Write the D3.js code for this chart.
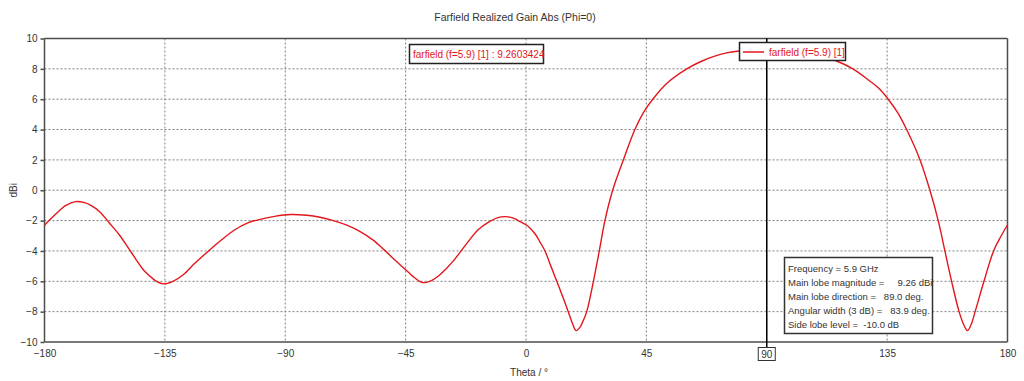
<!DOCTYPE html>
<html>
<head>
<meta charset="utf-8">
<script src="https://cdn.jsdelivr.net/npm/d3@7"></script>
<style>
  html, body { margin: 0; padding: 0; background: #fff; }
  svg { display: block; font-family: "Liberation Sans", Arial, sans-serif; }
  .grid line { stroke: #808080; stroke-dasharray: 2,2; stroke-width: 1; }
  .axis path, .axis line { stroke: #4d4d4d; stroke-width: 1.5; }
  .axis text { fill: #333; font-size: 10px; }
  .info text { fill: #333; font-size: 9.5px; white-space: pre; }
</style>
</head>
<body>
<div id="chart"></div>
<script>
// 角度 (deg) 與增益 (dBi)
const thetaDeg = [-180, -176, -172, -168.4, -165, -163, -159.4, -155.7, -152, -149, -146, -143, -140, -138, -135.5, -132, -128, -124, -119, -114, -109, -104, -99, -94, -88, -82, -77, -72, -67, -62, -57, -53, -49, -45.6, -42, -40, -38.7, -37, -35, -32.5, -30, -27, -24.4, -21, -18, -14, -10.5, -7.5, -4.5, -2.2, 1, 3.5, 5.2, 7.1, 9.3, 11.5, 13.7, 15.8, 17.3, 18.7, 20.3, 21.5, 22.7, 25.2, 27.4, 29.5, 32.4, 36.4, 40.7, 44, 47.6, 53, 60.1, 65.6, 70, 75, 79, 84, 89, 95, 100, 105, 110, 115.6, 122.2, 128.5, 132, 135.4, 139, 142.3, 147.3, 151, 154.1, 156.6, 159.1, 161.9, 163.6, 165, 166.4, 167.9, 171.2, 174.8, 177.5, 180];
const gainDbi = [-2.3, -1.6, -1.0, -0.75, -0.82, -0.97, -1.41, -2.17, -2.95, -3.71, -4.5, -5.25, -5.75, -6.02, -6.17, -6.0, -5.55, -4.85, -4.05, -3.3, -2.62, -2.15, -1.9, -1.72, -1.6, -1.65, -1.78, -2.0, -2.3, -2.72, -3.3, -3.93, -4.6, -5.14, -5.72, -5.98, -6.08, -6.05, -5.92, -5.62, -5.2, -4.62, -4.03, -3.25, -2.62, -2.1, -1.8, -1.74, -1.85, -2.07, -2.4, -2.9, -3.4, -4.0, -5.0, -6.0, -7.0, -8.0, -8.75, -9.25, -9.0, -8.55, -8.0, -6.0, -4.0, -2.0, 0.0, 2.0, 4.0, 5.15, 6.05, 7.1, 8.0, 8.5, 8.8, 9.05, 9.16, 9.23, 9.26, 9.23, 9.15, 9.02, 8.83, 8.55, 8.0, 7.2, 6.7, 6.0, 5.1, 4.0, 2.0, 0.0, -2.0, -4.0, -6.0, -8.0, -8.85, -9.25, -8.85, -8.0, -6.0, -4.0, -3.05, -2.29];

const xTicks = [-180, -135, -90, -45, 0, 45, 90, 135, 180];
const yTicks = [-10, -8, -6, -4, -2, 0, 2, 4, 6, 8, 10];

const markerTheta = 90;
const legendLabel = 'farfield (f=5.9) [1]';
const markerLabel = 'farfield (f=5.9) [1] : 9.2603424';
const infoLines = [
  'Frequency = 5.9 GHz',
  'Main lobe magnitude =     9.26 dBi',
  'Main lobe direction =   89.0 deg.',
  'Angular width (3 dB) =   83.9 deg.',
  'Side lobe level =  -10.0 dB'
];

const W = 1024, H = 381;
const red = '#e3161b';

const svg = d3.select('#chart').append('svg')
  .attr('width', W).attr('height', H);

const x = d3.scaleLinear().domain([-180, 180]).range([44.5, 1007.5]);
const y = d3.scaleLinear().domain([-10, 10]).range([342, 38.5]);

// 標題
svg.append('text')
  .attr('x', 515).attr('y', 21)
  .attr('text-anchor', 'middle')
  .attr('font-size', 10.5).attr('fill', '#333')
  .text('Farfield Realized Gain Abs (Phi=0)');

// 格線
svg.append('g').attr('class', 'grid')
  .selectAll('line').data(xTicks.slice(1, -1)).enter().append('line')
  .attr('x1', d => x(d)).attr('x2', d => x(d))
  .attr('y1', y(10)).attr('y2', y(-10));
svg.append('g').attr('class', 'grid')
  .selectAll('line').data(yTicks.slice(1, -1)).enter().append('line')
  .attr('x1', x(-180)).attr('x2', x(180))
  .attr('y1', d => y(d)).attr('y2', d => y(d));

// 外框
svg.append('line').attr('x1', x(-180)).attr('x2', x(180)).attr('y1', y(10)).attr('y2', y(10))
  .attr('stroke', '#4d4d4d').attr('stroke-width', 1.5);
svg.append('line').attr('x1', x(180)).attr('x2', x(180)).attr('y1', y(10)).attr('y2', y(-10))
  .attr('stroke', '#4d4d4d').attr('stroke-width', 1.5);

// 軸
svg.append('g').attr('class', 'axis')
  .attr('transform', `translate(0,${y(-10)})`)
  .call(d3.axisBottom(x).tickValues(xTicks).tickSize(0).tickPadding(8))
  .call(g => g.select('.domain').attr('d', `M${x(-180)},0H${x(180)}`));
svg.append('g').attr('class', 'axis')
  .attr('transform', `translate(${x(-180)},0)`)
  .call(d3.axisLeft(y).tickValues(yTicks).tickSize(4).tickPadding(3))
  .call(g => g.select('.domain').attr('d', `M0,${y(10)}V${y(-10)}`));

svg.append('text')
  .attr('x', 529).attr('y', 376)
  .attr('text-anchor', 'middle').attr('font-size', 10).attr('fill', '#333')
  .text('Theta / °');
svg.append('text')
  .attr('transform', `translate(17,${y(0)}) rotate(-90)`)
  .attr('text-anchor', 'middle').attr('font-size', 10).attr('fill', '#333')
  .text('dBi');

// 曲線
const pts = thetaDeg.map((t, i) => [t, gainDbi[i]]);
svg.append('path')
  .datum(pts)
  .attr('fill', 'none').attr('stroke', red).attr('stroke-width', 1.4)
  .attr('d', d3.line().x(d => x(d[0])).y(d => y(d[1])).curve(d3.curveCatmullRom.alpha(0.5)));

// 標記線 (90°)
svg.append('line')
  .attr('x1', x(markerTheta)).attr('x2', x(markerTheta))
  .attr('y1', y(10)).attr('y2', y(-10) + 5)
  .attr('stroke', '#000').attr('stroke-width', 1.5);
svg.append('rect')
  .attr('x', x(markerTheta) - 8.5).attr('y', 347.5).attr('width', 17).attr('height', 13)
  .attr('fill', '#fff').attr('stroke', '#333').attr('stroke-width', 1);
svg.append('text')
  .attr('x', x(markerTheta)).attr('y', 358)
  .attr('text-anchor', 'middle').attr('font-size', 10).attr('fill', '#333')
  .text(markerTheta);

// 標記數值框
svg.append('rect')
  .attr('x', 409.5).attr('y', 44.5).attr('width', 134).attr('height', 19)
  .attr('fill', '#fff').attr('stroke', '#222').attr('stroke-width', 1.5);
svg.append('text')
  .attr('x', 413).attr('y', 58)
  .attr('font-size', 10).attr('fill', red)
  .text(markerLabel);

// 圖例
svg.append('rect')
  .attr('x', 739.5).attr('y', 42.5).attr('width', 106).attr('height', 18)
  .attr('fill', '#fff').attr('stroke', '#222').attr('stroke-width', 1.5);
svg.append('line')
  .attr('x1', 743).attr('x2', 764).attr('y1', 52).attr('y2', 52)
  .attr('stroke', red).attr('stroke-width', 1.5);
svg.append('text')
  .attr('x', 769).attr('y', 55.5)
  .attr('font-size', 10).attr('fill', red)
  .text(legendLabel);

// 主瓣資訊框
const info = svg.append('g').attr('class', 'info');
info.append('rect')
  .attr('x', 784.5).attr('y', 257.5).attr('width', 148).attr('height', 76)
  .attr('fill', '#fff').attr('stroke', '#333').attr('stroke-width', 1.5);
info.selectAll('text').data(infoLines).enter().append('text')
  .attr('x', 788).attr('y', (d, i) => 272 + i * 14)
  .text(d => d);
</script>
</body>
</html>
